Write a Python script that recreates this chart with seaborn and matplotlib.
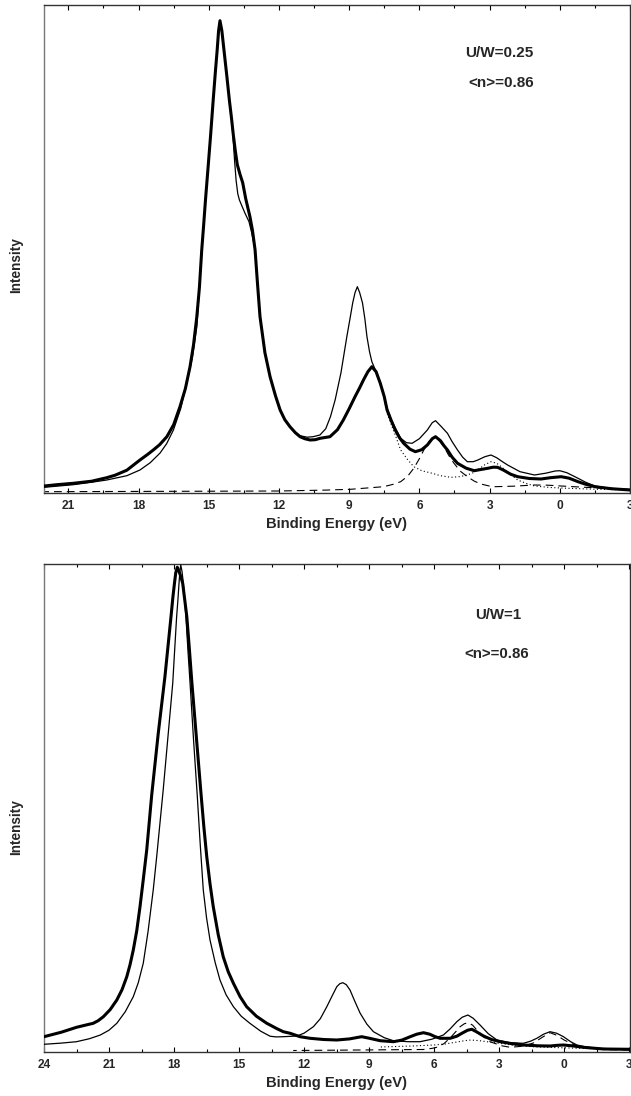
import matplotlib
matplotlib.use("Agg")
import matplotlib.pyplot as plt
import seaborn as sns
from matplotlib.ticker import MultipleLocator

# ---- data (binding energy in eV, intensity in arb. units) ----
# upper panel, U/W=0.25
top_thick_e = [22.03, 21.5, 20.79, 20.0, 19.36, 19.0, 18.5, 17.94, 17.6, 17.37, 17.1, 16.79, 16.5,
               16.23, 16.0, 15.80, 15.65, 15.51, 15.40, 15.30, 15.22, 15.14, 15.03, 14.92, 14.81,
               14.72, 14.64, 14.58, 14.52, 14.44, 14.35, 14.22, 14.12, 14.03, 13.95, 13.86, 13.78,
               13.66, 13.55, 13.42, 13.24, 13.13, 13.02, 12.92, 12.81, 12.6, 12.38, 12.15, 11.95,
               11.75, 11.53, 11.3, 11.10, 10.9, 10.67, 10.45, 10.24, 9.82, 9.5, 9.25, 9.0, 8.75,
               8.55, 8.39, 8.2, 8.03, 7.85, 7.67, 7.5, 7.38, 7.2, 7.03, 6.85, 6.67, 6.4, 6.17, 5.9,
               5.66, 5.45, 5.31, 5.1, 4.95, 4.80, 4.6, 4.37, 4.0, 3.66, 3.3, 3.08, 2.85, 2.66, 2.4,
               2.1, 1.80, 1.3, 0.8, 0.4, -0.06, -0.4, -0.78, -1.1, -1.5, -2.2, -3.0]
top_thick_i = [6.7, 8.0, 9.4, 11.5, 15.0, 17.5, 22.5, 32.7, 38.5, 42.7, 48.0, 56.0, 68.0,
               86.0, 104.0, 126.0, 148.0, 176.0, 205.0, 242.7, 267.0, 292.7, 325.0, 357.7, 392.7,
               420.0, 442.7, 462.0, 472.0, 462.0, 442.7, 415.0, 392.7, 375.0, 357.7, 341.0, 328.0,
               318.0, 310.0, 294.0, 276.0, 262.0, 242.7, 210.0, 176.0, 140.0, 116.0, 97.0, 82.7,
               73.0, 66.0, 60.0, 56.0, 54.0, 52.7, 53.0, 54.4, 56.0, 63.0, 72.7, 84.0, 96.0,
               105.0, 112.7, 121.0, 126.0, 121.0, 109.4, 96.0, 82.7, 72.0, 62.7, 55.0, 49.4, 43.5,
               41.0, 43.0, 47.7, 54.0, 56.0, 52.0, 47.0, 42.7, 35.5, 29.4, 24.5, 22.0, 23.5, 24.4,
               25.5, 25.4, 22.5, 18.5, 16.0, 14.2, 13.7, 15.0, 16.0, 14.5, 11.0, 8.5, 6.0, 4.0, 2.7]

top_thin_e = [22.03, 20.79, 20.0, 19.36, 18.5, 17.94, 17.5, 17.08, 16.8, 16.51, 16.2, 15.94, 15.7,
              15.51, 15.30, 15.22, 15.14, 15.03, 14.92, 14.81, 14.72, 14.64, 14.58, 14.52, 14.44,
              14.35, 14.22, 14.12, 14.03, 13.97, 13.90, 13.83, 13.76, 13.69, 13.57, 13.45, 13.28,
              13.16, 13.08, 13.02, 12.92, 12.81, 12.6, 12.38, 12.15, 11.95, 11.75, 11.53, 11.3,
              11.10, 10.8, 10.54, 10.25, 10.0, 9.8, 9.60, 9.35, 9.10, 8.95, 8.85, 8.75, 8.65, 8.55,
              8.43, 8.33, 8.24, 8.13, 8.03, 7.85, 7.67, 7.5, 7.38, 7.2, 7.03, 6.80, 6.55, 6.31, 6.0,
              5.66, 5.45, 5.31, 5.1, 4.80, 4.6, 4.37, 4.15, 3.95, 3.7, 3.50, 3.2, 2.94, 2.7, 2.45,
              2.23, 1.7, 1.08, 0.6, 0.2, 0.0, -0.3, -0.78, -1.1, -1.50, -2.2, -3.0]
top_thin_i = [5.4, 8.0, 10.5, 12.7, 17.0, 22.7, 30.0, 39.7, 49.0, 62.7, 84.0, 109.7, 135.0,
              166.0, 240.0, 267.0, 292.7, 325.0, 357.7, 392.7, 420.0, 442.7, 462.0, 472.0, 462.0,
              442.7, 415.0, 392.7, 375.0, 357.7, 333.0, 312.0, 299.0, 292.7, 286.0, 279.4, 271.0,
              259.4, 250.0, 242.7, 210.0, 176.0, 140.0, 116.0, 97.0, 82.7, 73.0, 66.0, 60.5,
              57.0, 55.5, 56.0, 57.7, 64.0, 76.0, 92.7, 120.0, 156.0, 176.0, 189.7, 200.0, 206.0, 200.0,
              189.7, 174.0, 156.0, 141.0, 131.0, 121.0, 109.7, 96.0, 84.7, 73.0, 64.7, 54.4, 50.0, 49.4, 54.0,
              62.7, 70.0, 72.0, 67.0, 59.4, 51.0, 42.7, 35.5, 31.0, 31.0, 32.7, 36.0, 37.7, 35.0, 31.0,
              27.7, 21.0, 17.7, 19.5, 21.7, 22.0, 20.0, 14.4, 10.5, 6.7, 4.2, 3.0]

top_dot_e = [8.03, 7.85, 7.67, 7.5, 7.38, 7.2, 7.03, 6.80, 6.5, 6.24, 5.9, 5.50, 5.1, 4.66, 4.3,
             3.95, 3.7, 3.52, 3.2, 2.94, 2.7, 2.50, 2.15, 1.80, 1.4, 1.08, 0.4, -0.35, -1.5, -3.0]
top_dot_i = [126.0, 120.0, 107.7, 94.0, 79.7, 68.0, 57.7, 42.7, 33.0, 26.0, 22.0, 19.7, 17.0, 15.4, 16.0,
             17.7, 20.0, 22.7, 28.0, 31.0, 29.5, 26.0, 19.0, 12.7, 9.0, 6.7, 5.2, 4.4, 3.5, 2.7]

top_dash_e = [22.03, 12.0, 10.0, 8.95, 7.53, 7.1, 6.80, 6.5, 6.24, 6.0, 5.81, 5.6, 5.38, 5.15,
              4.95, 4.75, 4.52, 4.25, 3.95, 3.65, 3.37, 3.0, 2.80, 2.0, 1.08, 0.5, -0.06, -1.07,
              -2.0, -3.0]
top_dash_i = [1.0, 1.7, 2.6, 3.4, 6.0, 8.5, 11.0, 16.5, 24.4, 34.0, 42.7, 51.0, 55.4, 52.0,
              46.0, 37.5, 29.4, 21.5, 16.0, 11.5, 8.7, 6.6, 6.0, 6.5, 7.7, 7.5, 6.7, 5.4,
              4.3, 3.4]

# lower panel, U/W=1
bot_thick_e = [24.0, 23.2, 22.5, 22.1, 21.73, 21.5, 21.26, 20.95, 20.64, 20.4, 20.18, 20.03, 19.88,
               19.72, 19.57, 19.42, 19.26, 19.15, 19.03, 18.73, 18.42, 18.28, 18.14, 18.05, 17.98,
               17.92, 17.85, 17.78, 17.70, 17.60, 17.41, 17.30, 17.18, 16.96, 16.75, 16.62, 16.49,
               16.34, 16.19, 15.96, 15.73, 15.5, 15.26, 14.95, 14.65, 14.2, 13.72, 13.57, 13.25,
               12.96, 12.64, 12.19, 11.72, 11.1, 10.49, 9.9, 9.6, 9.34, 9.0, 8.49, 7.88, 7.5, 7.10,
               6.8, 6.49, 6.2, 5.95, 5.72, 5.26, 4.95, 4.72, 4.45, 4.26, 4.05, 3.72, 3.35, 2.95,
               2.4, 1.88, 1.2, 0.65, 0.3, 0.03, -0.4, -0.89, -1.81, -3.04]
bot_thick_i = [15.0, 19.5, 24.4, 26.5, 28.4, 31.0, 35.0, 42.0, 51.7, 62.0, 75.0, 87.0, 101.7,
               121.0, 145.0, 172.0, 201.7, 228.0, 256.7, 318.0, 375.0, 405.0, 435.0, 455.0, 468.4,
               479.0, 484.4, 481.0, 476.0, 468.4, 435.0, 405.0, 370.0, 312.0, 256.7, 224.0, 195.0,
               168.0, 145.0, 117.0, 95.0, 80.0, 68.4, 55.0, 45.0, 35.5, 28.4, 26.7, 23.0,
               20.0, 18.4, 15.0, 13.4, 12.2, 11.7, 12.8, 14.0, 15.0, 13.5, 11.0, 10.0, 11.5, 15.0,
               17.5, 19.0, 17.5, 15.0, 13.4, 13.4, 15.5, 18.4, 21.5, 22.4, 20.0, 15.7, 12.2, 10.0,
               8.0, 6.7, 5.9, 5.7, 6.4, 6.7, 5.8, 4.4, 2.7, 2.4]

bot_thin_e = [24.0, 23.2, 22.5, 21.9, 21.40, 21.0, 20.64, 20.25, 19.88, 19.65, 19.42, 19.2, 18.96,
              18.8, 18.65, 18.50, 18.28, 18.06, 17.97, 17.88, 17.82, 17.77, 17.73, 17.69, 17.63,
              17.57, 17.45, 17.36, 17.26, 17.1, 16.93, 16.79, 16.65, 16.5, 16.34, 16.1, 15.88,
              15.6, 15.26, 14.9, 14.50, 14.0, 13.57, 13.3, 12.96, 12.33, 12.0, 11.57, 11.25, 10.95,
              10.7, 10.49, 10.35, 10.21, 10.05, 9.88, 9.65, 9.41, 9.1, 8.80, 8.3, 7.88, 7.2, 6.65,
              6.1, 5.57, 5.25, 4.95, 4.7, 4.44, 4.2, 3.88, 3.5, 3.10, 2.5, 1.88, 1.55, 1.26, 0.95,
              0.65, 0.35, 0.03, -0.3, -0.59, -1.0, -1.51, -3.04]
bot_thin_i = [7.4, 8.6, 10.0, 13.0, 16.7, 21.5, 28.4, 40.0, 55.0, 69.0, 88.4, 120.0, 161.7,
              195.0, 228.4, 261.7, 315.0, 368.4, 402.0, 435.0, 452.0, 468.4, 480.0, 486.7, 480.0,
              468.4, 435.0, 402.0, 368.4, 312.0, 256.7, 207.0, 161.7, 134.0, 111.7, 89.0, 71.7,
              57.0, 45.0, 35.5, 28.4, 20.5, 15.5, 14.8, 15.0, 15.7, 18.5, 25.0, 33.0, 45.0,
              56.0, 65.0, 68.0, 69.0, 67.0, 61.7, 50.0, 38.4, 27.5, 20.0, 14.0, 11.0, 10.0, 10.0,
              12.5, 16.7, 23.0, 30.0, 34.5, 36.7, 33.5, 26.7, 18.0, 11.7, 9.0, 8.4, 10.5, 13.4, 17.5,
              20.0, 18.5, 15.0, 10.0, 6.7, 4.8, 3.4, 2.4]

bot_dot_e = [8.5, 7.0, 6.0, 5.5, 5.0, 4.6, 4.3, 3.9, 3.5, 3.0, 2.5, 2.0, 1.4, 0.8, -0.1, -1.0,
             -2.0, -3.04]
bot_dot_i = [4.7, 5.7, 6.7, 7.7, 9.5, 11.0, 11.7, 11.0, 9.8, 8.4, 7.0, 5.7, 5.0, 4.4, 3.8, 3.2,
             2.6, 2.2]

bot_dash_e = [12.5, 6.5, 6.1, 5.88, 5.55, 5.26, 5.0, 4.80, 4.6, 4.42, 4.22, 4.03, 3.72, 3.42,
              2.9, 2.49, 1.9, 1.42, 1.0, 0.65, 0.35, 0.00, -0.4, -0.80, -1.80, -3.04]
bot_dash_i = [1.2, 2.2, 3.3, 4.4, 8.0, 13.7, 20.0, 25.0, 28.0, 29.0, 26.5, 21.7, 15.0, 10.0,
              6.0, 4.4, 5.5, 8.7, 14.5, 19.0, 16.5, 11.7, 7.5, 4.7, 2.2, 1.7]

top_ticks = [21, 18, 15, 12, 9, 6, 3, 0, -3]
bot_ticks = [24, 21, 18, 15, 12, 9, 6, 3, 0, -3]
tick_text = lambda t: str(abs(t))   # the cut-off right label shows only "3"

sns.set_theme(style="white")
plt.rcParams['font.family'] = ['Liberation Sans', 'DejaVu Sans']
plt.rcParams['font.weight'] = 'bold'

W, H = 631, 1096
fig = plt.figure(figsize=(W / 100, H / 100), dpi=100)
ax1 = fig.add_axes([44 / W, 1 - 492.7 / H, 586 / W, 487.7 / H])
ax2 = fig.add_axes([44 / W, 1 - 1051.7 / H, 586 / W, 487.7 / H])

dash_style = (0, (7, 4.5))
dot_style = (0, (1, 2.2))


def draw(ax, thick, thin, dot, dash):
    sns.lineplot(x=dash[0], y=dash[1], ax=ax, color='black', linewidth=0.8,
                 linestyle=dash_style, estimator=None, zorder=2)
    sns.lineplot(x=dot[0], y=dot[1], ax=ax, color='black', linewidth=0.8,
                 linestyle=dot_style, estimator=None, zorder=2)
    sns.lineplot(x=thin[0], y=thin[1], ax=ax, color='black', linewidth=0.9,
                 estimator=None, zorder=3)
    sns.lineplot(x=thick[0], y=thick[1], ax=ax, color='black', linewidth=2.2,
                 estimator=None, zorder=4)


draw(ax1, (top_thick_e, top_thick_i), (top_thin_e, top_thin_i),
     (top_dot_e, top_dot_i), (top_dash_e, top_dash_i))
draw(ax2, (bot_thick_e, bot_thick_i), (bot_thin_e, bot_thin_i),
     (bot_dot_e, bot_dot_i), (bot_dash_e, bot_dash_i))

ax1.set_xlim(22.04, -3.0)
ax2.set_xlim(24.0, -3.04)

for ax, ticks, ly in ((ax1, top_ticks, 0.467), (ax2, bot_ticks, 0.461)):
    ax.set_ylim(0, 487.7)
    ax.set_yticks([])
    ax.set_xticks(ticks)
    ax.set_xticklabels([tick_text(t) for t in ticks], fontsize=8.6, fontweight='bold')
    ax.xaxis.set_minor_locator(MultipleLocator(1.5))
    ax.tick_params(axis='x', which='both', direction='in', top=True, bottom=True,
                   color='black', pad=5.5)
    ax.tick_params(axis='x', which='major', length=3.6, width=0.8)
    ax.tick_params(axis='x', which='minor', length=2.4, width=0.8)
    ax.set_xlabel('Binding Energy (eV)', fontsize=10.6, fontweight='bold', labelpad=3)
    ax.set_ylabel('Intensity', fontsize=9.8, fontweight='bold')
    ax.yaxis.set_label_coords(-0.035, ly)
    for side in ('left', 'right', 'top', 'bottom'):
        ax.spines[side].set_visible(True)
        ax.spines[side].set_color('#333333')
        ax.spines[side].set_linewidth(1.0)
    ax.spines['left'].set_color('#777777')

fig.text(499 / W, 1 - 53.3 / H, 'U/W=0.25', ha='center', va='center', fontsize=11,
         fontweight='bold')
fig.text(501 / W, 1 - 83.3 / H, '<n>=0.86', ha='center', va='center', fontsize=11,
         fontweight='bold')
fig.text(498 / W, 1 - 615 / H, 'U/W=1', ha='center', va='center', fontsize=10.8,
         fontweight='bold')
fig.text(497 / W, 1 - 654 / H, '<n>=0.86', ha='center', va='center', fontsize=10.8,
         fontweight='bold')

fig.savefig('out.png', dpi=100)
